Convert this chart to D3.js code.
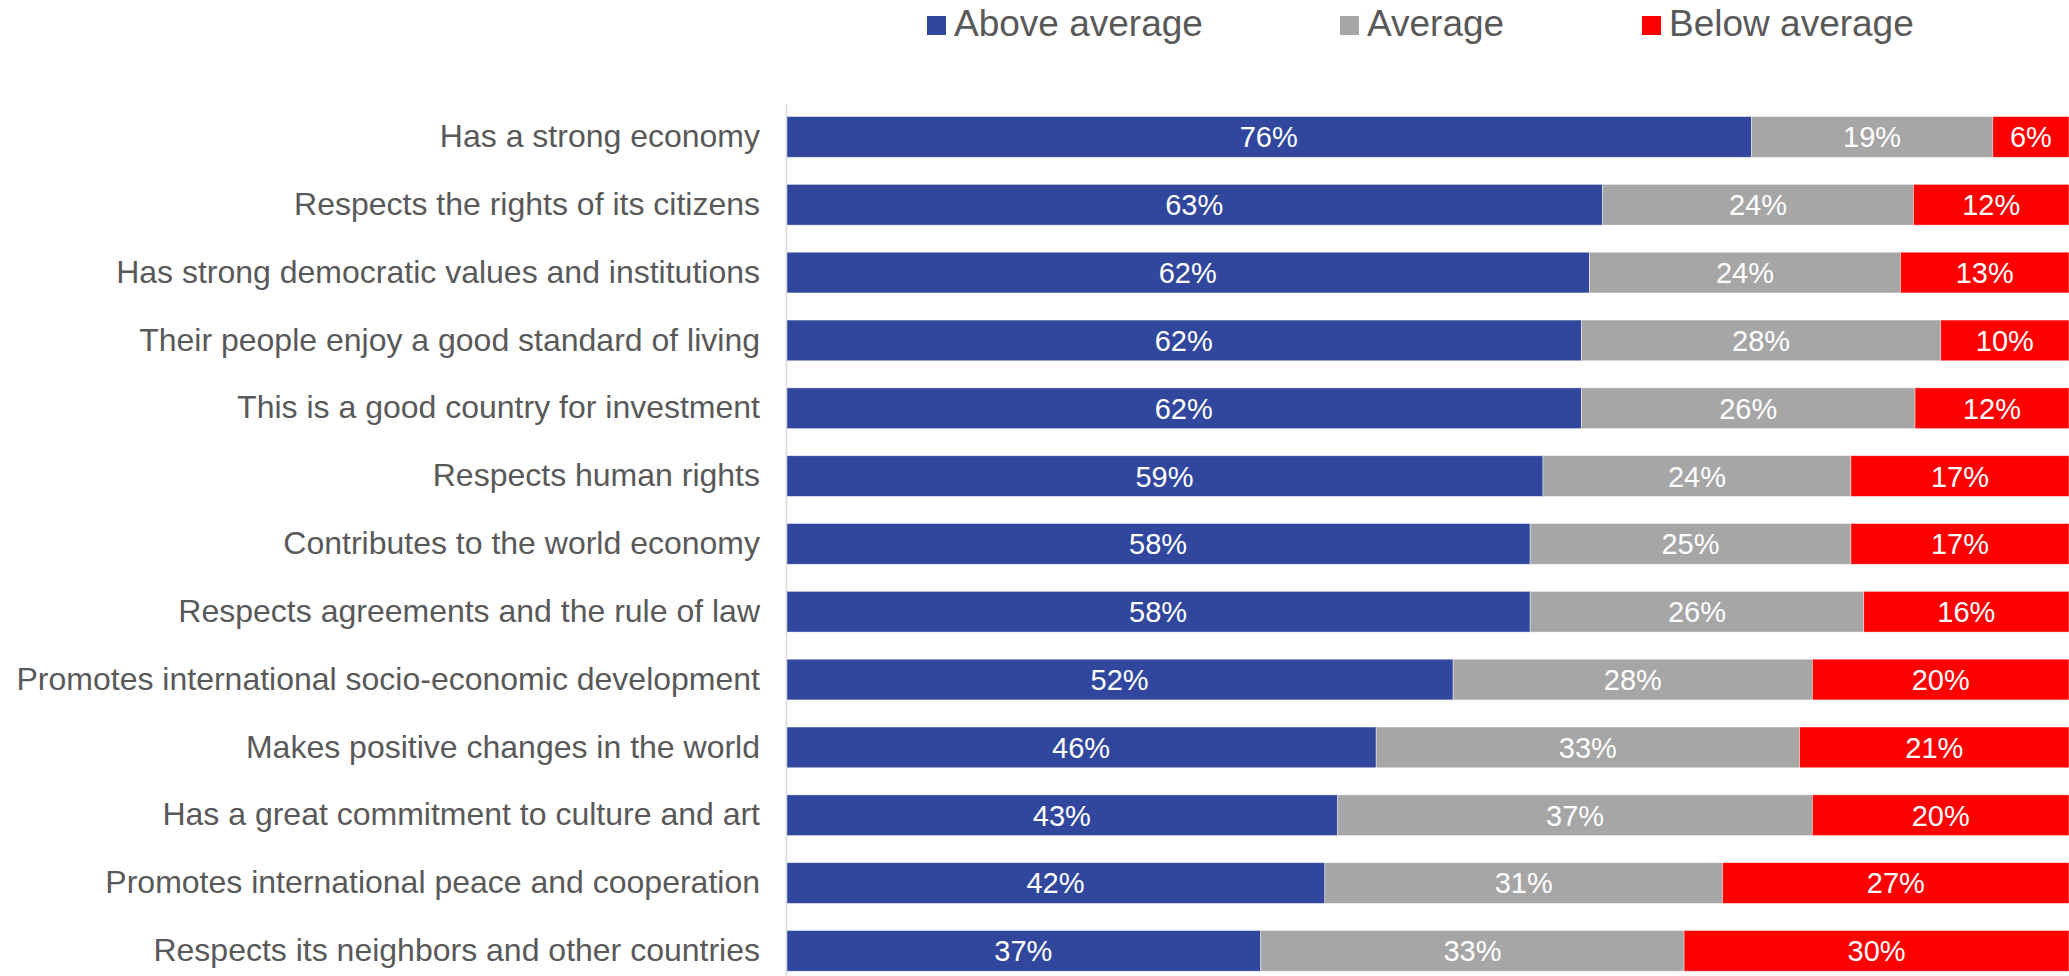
<!DOCTYPE html>
<html>
<head>
<meta charset="utf-8">
<script src="https://cdn.jsdelivr.net/npm/d3@7"></script>
<style>
  html, body { margin: 0; padding: 0; background: #fff; }
  svg { display: block; }
  text { font-family: "Liberation Sans", Arial, sans-serif; }
</style>
</head>
<body>
<svg id="chart" width="2069" height="976"></svg>
<script>
// Perception ratings, share of respondents (%)
const categories = [
  "Has a strong economy",
  "Respects the rights of its citizens",
  "Has strong democratic values and institutions",
  "Their people enjoy a good standard of living",
  "This is a good country for investment",
  "Respects human rights",
  "Contributes to the world economy",
  "Respects agreements and the rule of law",
  "Promotes international socio-economic development",
  "Makes positive changes in the world",
  "Has a great commitment to culture and art",
  "Promotes international peace and cooperation",
  "Respects its neighbors and other countries"
];
const aboveAverage = [76, 63, 62, 62, 62, 59, 58, 58, 52, 46, 43, 42, 37];
const average      = [19, 24, 24, 28, 26, 24, 25, 26, 28, 33, 37, 31, 33];
const belowAverage = [6, 12, 13, 10, 12, 17, 17, 16, 20, 21, 20, 27, 30];

const seriesNames = ["Above average", "Average", "Below average"];
const seriesKeys = ["above", "average", "below"];
const colors = ["#30479D", "#A6A6A6", "#FF0000"];

const rows = categories.map((c, i) => ({
  category: c,
  above: aboveAverage[i],
  average: average[i],
  below: belowAverage[i]
}));

// 100% stacked: each row is normalised by its own total
const stacked = d3.stack()
  .keys(seriesKeys)
  .offset(d3.stackOffsetExpand)(rows);

const svg = d3.select("#chart");
const margin = { left: 786, right: 0, top: 103 };

const x = d3.scaleLinear().domain([0, 1]).range([margin.left, 2069]);
const y = d3.scaleBand()
  .domain(categories)
  .range([margin.top, margin.top + 13 * 67.83])
  .paddingInner(0.4)
  .paddingOuter(0.2);

// bars
const layers = svg.append("g").selectAll("g")
  .data(stacked)
  .join("g")
  .attr("fill", (d, i) => colors[i]);

layers.selectAll("rect")
  .data(d => d.map(s => ({ s, key: d.key })))
  .join("rect")
  .attr("x", d => x(d.s[0]))
  .attr("y", d => y(d.s.data.category))
  .attr("width", d => x(d.s[1]) - x(d.s[0]))
  .attr("height", y.bandwidth())
  .attr("stroke", "rgba(255,255,255,0.55)")
  .attr("stroke-width", 0.75);

// value labels
layers.selectAll("text")
  .data(d => d.map(s => ({ s, key: d.key })))
  .join("text")
  .attr("x", d => (x(d.s[0]) + x(d.s[1])) / 2)
  .attr("y", d => y(d.s.data.category) + y.bandwidth() / 2)
  .attr("dy", "0.36em")
  .attr("text-anchor", "middle")
  .attr("fill", "#fff")
  .attr("font-size", 29)
  .text(d => d.s.data[d.key] + "%");

// vertical category axis
const yAxis = d3.axisLeft(y).tickSize(0).tickPadding(26);
const axisG = svg.append("g")
  .attr("transform", `translate(${margin.left},0)`)
  .call(yAxis);
axisG.select(".domain")
  .attr("stroke", "#D9D9D9")
  .attr("stroke-width", 1.5);
axisG.selectAll("text")
  .attr("font-size", 32)
  .attr("fill", "#595959")
  .attr("font-family", "'Liberation Sans', Arial, sans-serif");

// legend
const legendX = [927, 1340, 1642];
const legend = svg.append("g").selectAll("g")
  .data(seriesNames)
  .join("g")
  .attr("transform", (d, i) => `translate(${legendX[i]},0)`);
legend.append("rect")
  .attr("x", 0).attr("y", 16)
  .attr("width", 19).attr("height", 19)
  .attr("fill", (d, i) => colors[i]);
legend.append("text")
  .attr("x", 27).attr("y", 35.5)
  .attr("font-size", 37)
  .attr("fill", "#595959")
  .text(d => d);
</script>
</body>
</html>
